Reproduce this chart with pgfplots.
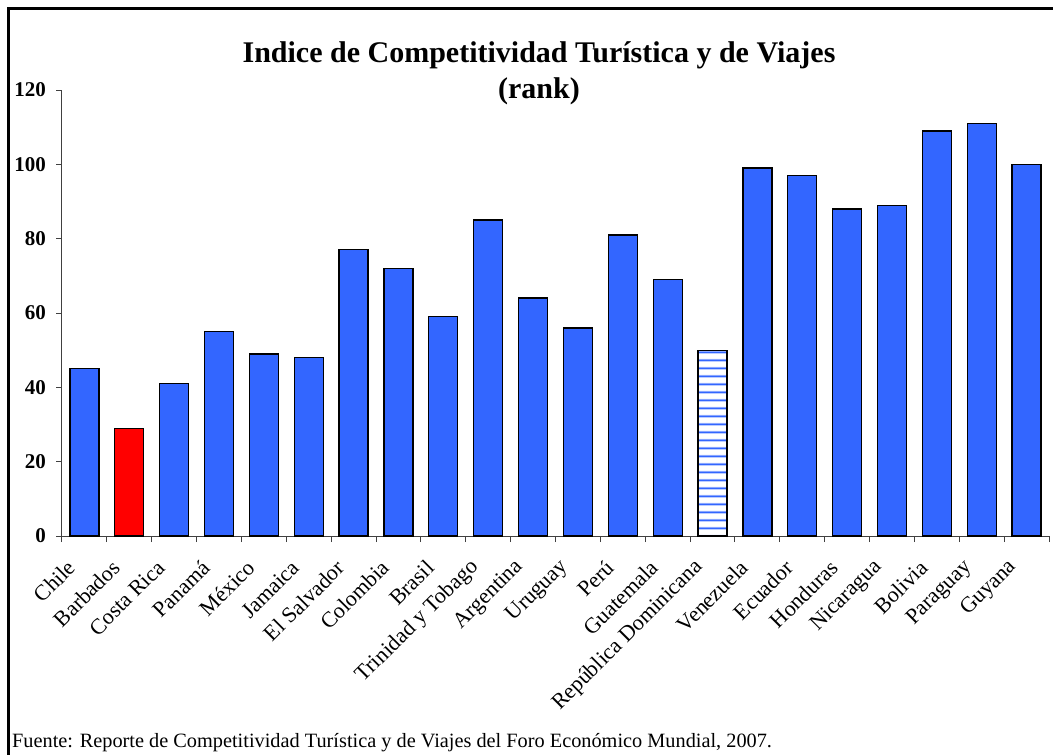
\documentclass[border=0pt]{standalone}
\usepackage{pgfplots}
\pgfplotsset{compat=1.18}
\usepackage{fontspec}
\setmainfont{Liberation Serif}
\usetikzlibrary{patterns.meta}
\definecolor{barblue}{RGB}{51,102,255}
\definecolor{barred}{RGB}{255,0,0}
\tikzdeclarepattern{
  name=bluelines,
  type=colored,
  bottom left={(0pt,0pt)},
  top right={(10pt,7.7pt)},
  tile size={(10pt,7.7pt)},
  code={\fill[barblue!35] (-1pt,2.35pt) rectangle (11pt,5.35pt);
        \fill[barblue] (-1pt,3.1pt) rectangle (11pt,4.6pt);}
}
\begin{document}
\begin{tikzpicture}
\useasboundingbox (0pt,0pt) rectangle (1053pt,-755pt);
\fill[white] (0pt,0pt) rectangle (1053pt,-755pt);
\draw[line width=2.5pt] (8.5pt,-800pt) -- (8.5pt,-8.5pt) -- (1100pt,-8.5pt);
\begin{axis}[
  at={(62pt,-536pt)}, anchor=south west,
  width=987pt, height=446pt, scale only axis,
  xmin=0, xmax=22, ymin=0, ymax=120,
  axis x line*=bottom, axis y line*=left,
  axis line style={black!75, line width=1pt},
  tick style={black!75, line width=1pt},
  tick align=outside, major tick length=6pt,
  xtick={0,...,22},
  x tick label as interval,
  xticklabels={Chile,Barbados,Costa Rica,Panamá,México,Jamaica,El Salvador,Colombia,Brasil,Trinidad y Tobago,Argentina,Uruguay,Perú,Guatemala,República Dominicana,Venezuela,Ecuador,Honduras,Nicaragua,Bolivia,Paraguay,Guyana},
  xticklabel style={xshift=-13pt, yshift=-22pt, rotate=45, anchor=east, inner sep=0pt, font=\fontsize{22}{24}\selectfont},
  ytick={0,20,...,120},
  /pgf/number format/assume math mode=true,
  yticklabel style={font=\bfseries\fontsize{21}{24}\selectfont, inner sep=0pt, xshift=-10pt},
  clip=false,
]
\addplot[ybar, bar shift=0pt, bar width=29pt, draw=black, line width=1.3pt, fill=barblue] coordinates {
(0.5,45) (2.5,41) (3.5,55) (4.5,49) (5.5,48) (6.5,77) (7.5,72) (8.5,59) (9.5,85) (10.5,64) (11.5,56) (12.5,81) (13.5,69) (15.5,99) (16.5,97) (17.5,88) (18.5,89) (19.5,109) (20.5,111) (21.5,100)
};
\addplot[ybar, bar shift=0pt, bar width=29pt, draw=black, line width=1.3pt, fill=barred] coordinates {(1.5,29)};
\addplot[ybar, bar shift=0pt, bar width=29pt, draw=black, line width=1.3pt, fill=white, postaction={pattern=bluelines}] coordinates {(14.5,50)};
\addplot[ybar, bar shift=0pt, bar width=29pt, draw=black, line width=1.3pt, fill=none] coordinates {(14.5,50)};
\end{axis}
\node[anchor=base, font=\bfseries\fontsize{30}{34}\selectfont] at (539pt,-62pt) {Indice de Competitividad Turística y de Viajes};
\node[anchor=base, font=\bfseries\fontsize{30}{34}\selectfont] at (539pt,-98pt) {(rank)};
\node[anchor=base west, inner sep=0pt, font=\fontsize{20.3}{24}\selectfont] at (12pt,-747pt) {Fuente: Reporte de Competitividad Turística y de Viajes del Foro Económico Mundial, 2007.};
\end{tikzpicture}
\end{document}
